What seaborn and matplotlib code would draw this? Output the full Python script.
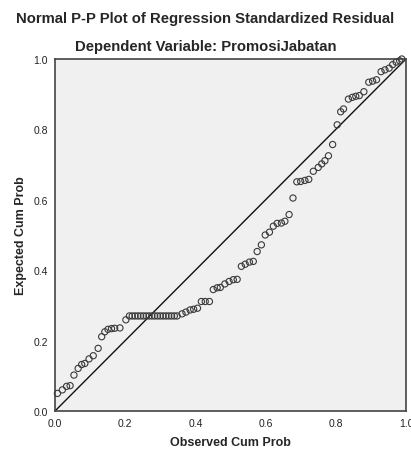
import numpy as np
import pandas as pd
import matplotlib
matplotlib.use("Agg")
import matplotlib.pyplot as plt
import seaborn as sns

# observed vs expected cumulative probabilities
observed = [
    0.007, 0.021, 0.033, 0.043, 0.054, 0.066, 0.076, 0.085, 0.097, 0.109,
    0.123, 0.133, 0.142, 0.151, 0.161, 0.170, 0.185, 0.202,
    0.212, 0.220, 0.228, 0.236, 0.244, 0.252, 0.260, 0.268, 0.276, 0.284,
    0.292, 0.300, 0.308, 0.316, 0.324, 0.332, 0.340, 0.348,
    0.362, 0.373, 0.385, 0.395, 0.406, 0.417, 0.428, 0.440, 0.451, 0.462,
    0.471, 0.484, 0.496, 0.508, 0.519, 0.531, 0.542, 0.554, 0.565, 0.576,
    0.588, 0.599, 0.611, 0.622, 0.633, 0.645, 0.655, 0.667, 0.678, 0.689,
    0.700, 0.712, 0.723, 0.736, 0.750, 0.760, 0.769, 0.779, 0.791, 0.804,
    0.814, 0.822, 0.836, 0.847, 0.857, 0.867, 0.880, 0.894, 0.905, 0.916,
    0.929, 0.940, 0.952, 0.962, 0.972, 0.982, 0.988,
]
expected = [
    0.050, 0.060, 0.070, 0.072, 0.102, 0.121, 0.132, 0.135, 0.148, 0.157,
    0.178, 0.211, 0.225, 0.232, 0.234, 0.235, 0.236, 0.259,
    0.270, 0.270, 0.270, 0.270, 0.270, 0.270, 0.270, 0.270, 0.270, 0.270,
    0.270, 0.270, 0.270, 0.270, 0.270, 0.270, 0.270, 0.270,
    0.276, 0.281, 0.287, 0.289, 0.292, 0.311, 0.311, 0.311, 0.345, 0.350,
    0.351, 0.361, 0.368, 0.373, 0.374, 0.411, 0.417, 0.423, 0.425, 0.453,
    0.472, 0.500, 0.508, 0.525, 0.533, 0.534, 0.539, 0.558, 0.605, 0.651,
    0.652, 0.655, 0.658, 0.681, 0.692, 0.702, 0.711, 0.725, 0.757, 0.813,
    0.850, 0.858, 0.886, 0.891, 0.894, 0.896, 0.907, 0.934, 0.937, 0.941,
    0.964, 0.969, 0.974, 0.984, 0.991, 0.995, 1.000,
]
ticks = [0.0, 0.2, 0.4, 0.6, 0.8, 1.0]
tick_labels = ["0.0", "0.2", "0.4", "0.6", "0.8", "1.0"]

df = pd.DataFrame({"observed": observed, "expected": expected})

sns.set_style("white")
plt.rcParams["font.family"] = ["Liberation Sans", "DejaVu Sans"]

fig = plt.figure(figsize=(4.11, 4.52), dpi=100)
ax = fig.add_axes([0.1338, 0.0885, 0.854, 0.7788])
ax.set_facecolor("#f0f0f0")

ax.plot([0, 1], [0, 1], color="#111111", lw=1.0, zorder=2)
sns.scatterplot(data=df, x="observed", y="expected", ax=ax,
                marker="o", s=20, facecolor="none", edgecolor="#3a3a3a",
                linewidth=0.8, zorder=3, clip_on=False)

ax.set_xlim(0, 1)
ax.set_ylim(0, 1)
ax.set_xticks(ticks)
ax.set_xticklabels(tick_labels)
ax.set_yticks(ticks)
ax.set_yticklabels(tick_labels)
ax.tick_params(axis="both", direction="out", length=4, width=1,
               color="#333333", labelsize=7.5, labelcolor="#222222", pad=1)
for sp in ax.spines.values():
    sp.set_color("#444444")
    sp.set_linewidth(1.2)

ax.set_xlabel("Observed Cum Prob", fontsize=9, fontweight="bold", labelpad=6)
ax.set_ylabel("Expected Cum Prob", fontsize=9, fontweight="bold", labelpad=5)

fig.text(0.5, 0.957, "Normal P-P Plot of Regression Standardized Residual",
         ha="center", va="center", fontsize=10.7, fontweight="bold")
fig.text(0.5, 0.896, "Dependent Variable: PromosiJabatan",
         ha="center", va="center", fontsize=10.7, fontweight="bold")

fig.savefig("out.png", dpi=100)
